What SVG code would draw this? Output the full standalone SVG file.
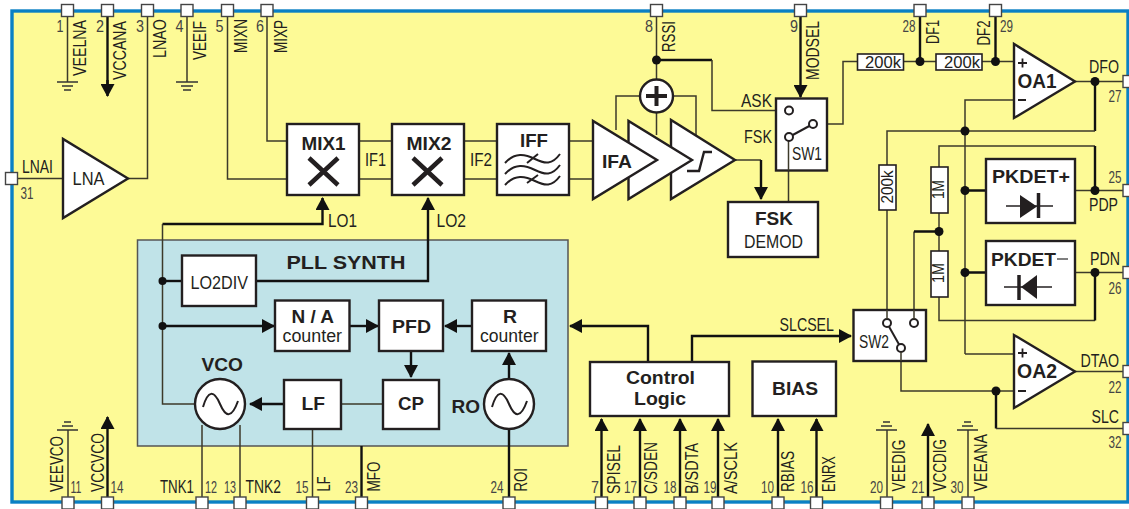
<svg xmlns="http://www.w3.org/2000/svg" width="1129" height="509" viewBox="0 0 1129 509">
<style>
text{font-family:"Liberation Sans",Arial,sans-serif;fill:#231f20}
.l{font-size:18px}
.n{font-size:17px;fill:#444;text-anchor:middle}
.b{font-size:19px;font-weight:bold}
.box{fill:#fff;stroke:#231f20;stroke-width:2.4}
.pin{fill:#fff;stroke:#444;stroke-width:1.4}
.res{fill:#fff;stroke:#231f20;stroke-width:1.6}
.t{fill:none;stroke:#3c3a2a;stroke-width:1.5}
.k{fill:none;stroke:#111;stroke-width:2.4}
.a{marker-end:url(#ah)}
.d{fill:#111}
.w{fill:none;stroke:#231f20;stroke-width:2}
.g{stroke:#333;stroke-width:1.5;fill:none}
</style>
<defs>
<marker id="ah" markerUnits="userSpaceOnUse" markerWidth="14" markerHeight="14" viewBox="0 0 13 14" refX="12" refY="7" orient="auto"><path d="M0 0L13 7L0 14Z" fill="#111"/></marker>
</defs>
<rect id="chip" x="12" y="11" width="1116" height="491" fill="#fdfa96" stroke="#0a80c4" stroke-width="3.4"/>
<g id="pll"><rect x="137.500" y="240" width="430.500" height="206" fill="#c0e3e8" stroke="#555" stroke-width="1.500"/><text class="b" x="286.500" y="269" textLength="119" lengthAdjust="spacingAndGlyphs">PLL SYNTH</text></g>
<g id="connectors">
<path class="t" d="M12 178.500H63M128 178.500H147.500V16M67.500 16V82M187 16V82M227.500 16V179H287M267 16V141H287"/>
<path class="k" d="M107.500 16V86"/>
<path class="k a" d="M107.500 80V96"/>
<path class="t" d="M359 141H392M359 179H392M464 141H497M464 179H497M569 141H593M569 179H593"/>
<path class="k a" d="M162.500 224H322.500V198"/>
<path class="t" d="M162.500 224V404H195"/>
<path class="k a" d="M256 281H428V198"/>
<path class="k" d="M162.500 281H182"/>
<path class="k a" d="M162.500 326H274"/>
<path class="k a" d="M349.500 326H378"/>
<path class="k a" d="M472 326H445"/>
<path class="k a" d="M411 351V377"/>
<path class="t" d="M383 404H341"/>
<path class="k a" d="M284 404H250"/>
<path class="k a" d="M509 379V353"/>
<path class="t" d="M202 425V497M240 425V497M312.500 429V497"/>
<path class="k" d="M361.500 446V497M509 429V497"/>
<path class="k a" d="M648 362V326H570"/>
<path class="k a" d="M692 362V336H851"/>
<path class="k a" d="M601.500 497V419"/>
<path class="k a" d="M640 497V419"/>
<path class="k a" d="M680 497V419"/>
<path class="k a" d="M718 497V419"/>
<path class="k a" d="M778 497V419"/>
<path class="k a" d="M816.500 497V419"/>
<path class="t" d="M68 497V430M887 497V430M968 497V430"/>
<path class="k a" d="M107.500 497V417"/>
<path class="k a" d="M928 497V424"/>
<path class="t" d="M656.500 16V79M616 130V96H640M673 96H696V135M656.500 113V135"/>
<path class="k" d="M656.500 60H712"/>
<path class="t" d="M712 60V110.500H785"/>
<path class="t" d="M735 160H761"/>
<path class="k a" d="M761 160V199"/>
<path class="k a" d="M800.500 16V97"/>
<path class="t" d="M788.500 141V202M817 124H843V61.500H858M903.500 61.500H936M982 61.500H1014"/>
<path class="k" d="M920 16V61M995.500 16V61"/>
<path class="t" d="M1075 81.500H1128M1075 190.500H1128M1075 272.500H1128M1075 371.500H1128"/>
<path class="k" d="M1095 81.500V131"/>
<path class="t" d="M887 319V131H1095M965 354V100H1014M965 354H1014M939 213V251M939 297V320.500H1095M939 167V146H1095M914 319V231.500"/>
<path class="k" d="M1095 146V190.500M1095 272.500V320.500M914 231.500H939M965 190.500H986M965 272.500H986"/>
<path class="t" d="M901 352V391H1014"/>
<path class="k" d="M996 391V428.500"/>
<path class="t" d="M996 428.500H1128"/>
<g class="dots"><circle class="d" cx="162.500" cy="281" r="4"/><circle class="d" cx="162.500" cy="326" r="4"/><circle class="d" cx="656.500" cy="60" r="4.500"/><circle class="d" cx="920" cy="61.500" r="4.500"/><circle class="d" cx="995.500" cy="61.500" r="4.500"/><circle class="d" cx="1095" cy="81.500" r="4.500"/><circle class="d" cx="965" cy="131" r="4.500"/><circle class="d" cx="965" cy="190.500" r="4.500"/><circle class="d" cx="1095" cy="190.500" r="4.500"/><circle class="d" cx="939" cy="231.500" r="4.500"/><circle class="d" cx="965" cy="272.500" r="4.500"/><circle class="d" cx="1095" cy="272.500" r="4.500"/><circle class="d" cx="996" cy="391" r="4.500"/></g>
<path class="g" d="M57 82H78M62 86H73M64 90H71M176 82H198M181 86H193M183 90H191M57 430H78M62 426H73M64 422H71M876 430H897M881 426H892M883 422H890M957 430H978M962 426H973M964 422H971"/>
</g>
<g id="lna"><path class="box" d="M63 139V218L128 178.500Z"/><text class="l" x="72.500" y="185" style="font-size:19px" textLength="32" lengthAdjust="spacingAndGlyphs">LNA</text></g>
<g id="mix1"><rect class="box" x="287" y="124" width="72" height="71"/><text class="b" x="301.500" y="150" textLength="44" lengthAdjust="spacingAndGlyphs">MIX1</text><path d="M309 158L338 185M338 158L309 185" stroke="#231f20" stroke-width="4.500" fill="none"/></g>
<g id="mix2"><rect class="box" x="392" y="124" width="72" height="71"/><text class="b" x="406.500" y="150" textLength="45" lengthAdjust="spacingAndGlyphs">MIX2</text><path d="M413 158L442 185M442 158L413 185" stroke="#231f20" stroke-width="4.500" fill="none"/></g>
<g id="iff"><rect class="box" x="497" y="124" width="72" height="71"/><text class="b" x="520" y="147" textLength="28" lengthAdjust="spacingAndGlyphs">IFF</text><path class="w" d="M505 163C515 152 525 154 535 159S552 165 560 154M505 174C515 163 525 165 535 170S552 176 560 165M505 185C515 174 525 176 535 181S552 187 560 176M527 163L538 154M527 183L538 175"/></g>
<g id="amp3"><path class="box" d="M671 120V199L735 160Z"/><path d="M687 171H699L704 152H712" fill="none" stroke="#231f20" stroke-width="2.400"/></g>
<g id="amp2"><path class="box" d="M628.500 121V199L692 160Z"/></g>
<g id="ifa"><path class="box" d="M593 121V199L657 160Z"/><text class="b" x="602" y="168" textLength="30" lengthAdjust="spacingAndGlyphs">IFA</text></g>
<g id="sum"><circle class="box" cx="656.500" cy="96" r="16.500"/><path d="M646 96H667M656.500 86V106" stroke="#231f20" stroke-width="4" fill="none"/></g>
<g id="sw1"><rect class="box" x="776" y="98.500" width="51" height="72"/><path d="M789 137L813 124" stroke="#231f20" stroke-width="2"/><path d="M788.500 141V170.500" class="t"/><circle cx="789" cy="110.500" r="4" fill="#fff" stroke="#231f20" stroke-width="2"/><circle cx="813" cy="124" r="4" fill="#fff" stroke="#231f20" stroke-width="2"/><circle cx="789" cy="137" r="4" fill="#fff" stroke="#231f20" stroke-width="2"/><text class="l" x="792" y="160" textLength="30" lengthAdjust="spacingAndGlyphs">SW1</text></g>
<g id="fskdemod"><rect class="box" x="728" y="202" width="90" height="55"/><text class="b" x="755" y="225" textLength="38" lengthAdjust="spacingAndGlyphs">FSK</text><text class="l" x="744" y="248" textLength="59" lengthAdjust="spacingAndGlyphs">DEMOD</text></g>
<g id="r1"><rect class="res" x="857.500" y="54" width="46" height="16"/><text class="l" x="865" y="68" style="font-size:17px" textLength="36" lengthAdjust="spacingAndGlyphs">200k</text></g>
<g id="r2"><rect class="res" x="936" y="54" width="46" height="16"/><text class="l" x="944" y="68" style="font-size:17px" textLength="36" lengthAdjust="spacingAndGlyphs">200k</text></g>
<g id="oa1"><path class="box" d="M1014 44V118L1075 81.500Z"/><text class="b" x="1017.500" y="88" style="font-size:20px" textLength="39" lengthAdjust="spacingAndGlyphs">OA1</text><path d="M1018 63H1027M1022.500 58.500V67.500M1018 100H1026" stroke="#231f20" stroke-width="1.800" fill="none"/></g>
<g id="oa2"><path class="box" d="M1014 335V408L1075 371.500Z"/><text class="b" x="1017" y="378" style="font-size:20px" textLength="40" lengthAdjust="spacingAndGlyphs">OA2</text><path d="M1018 353H1027M1022.500 348.500V357.500M1018 391H1026" stroke="#231f20" stroke-width="1.800" fill="none"/></g>
<g id="r3"><rect class="res" x="879" y="165" width="17" height="45"/><text class="l" transform="translate(893 203.500) rotate(-90)" style="font-size:16px" textLength="33" lengthAdjust="spacingAndGlyphs">200k</text></g>
<g id="r4"><rect class="res" x="931" y="167" width="17" height="46"/><text class="l" transform="translate(944 199) rotate(-90)" style="font-size:16px" textLength="19" lengthAdjust="spacingAndGlyphs">1M</text></g>
<g id="r5"><rect class="res" x="931" y="251" width="17" height="46"/><text class="l" transform="translate(944 283) rotate(-90)" style="font-size:16px" textLength="20" lengthAdjust="spacingAndGlyphs">1M</text></g>
<g id="pkdetp"><rect class="box" x="986" y="159" width="89" height="64"/><text class="b" x="992" y="183" textLength="78" lengthAdjust="spacingAndGlyphs">PKDET+</text><path d="M1006 206H1053" stroke="#231f20" stroke-width="1.500"/><path d="M1020 195V218L1037 206.500Z" fill="#231f20"/><path d="M1038.500 193V218" stroke="#231f20" stroke-width="3.500"/></g>
<g id="pkdetn"><rect class="box" x="986" y="241" width="89" height="64"/><text class="b" x="991" y="265.500" textLength="65" lengthAdjust="spacingAndGlyphs">PKDET</text><path d="M1057 259H1068" stroke="#555" stroke-width="1.500"/><path d="M1004 287H1052" stroke="#231f20" stroke-width="1.500"/><path d="M1037 275V299L1021 287Z" fill="#231f20"/><path d="M1019 275V300" stroke="#231f20" stroke-width="3.500"/></g>
<g id="sw2"><rect class="box" x="853.500" y="310" width="72.500" height="51"/><path d="M887 323L901 348" stroke="#231f20" stroke-width="2"/><circle cx="887" cy="323" r="4" fill="#fff" stroke="#231f20" stroke-width="2"/><circle cx="914" cy="323" r="4" fill="#fff" stroke="#231f20" stroke-width="2"/><circle cx="901" cy="348" r="4" fill="#fff" stroke="#231f20" stroke-width="2"/><path class="t" d="M887 310V319M914 310V319M901 352V361"/><text class="l" x="859" y="348" textLength="30" lengthAdjust="spacingAndGlyphs">SW2</text></g>
<g id="control"><rect class="box" x="590" y="362" width="139" height="54"/><text class="b" x="626" y="384" textLength="69" lengthAdjust="spacingAndGlyphs">Control</text><text class="b" x="634" y="405" textLength="52" lengthAdjust="spacingAndGlyphs">Logic</text></g>
<g id="bias"><rect class="box" x="752.500" y="361.500" width="83.500" height="54.500"/><text class="b" x="772" y="395" textLength="46" lengthAdjust="spacingAndGlyphs">BIAS</text></g>
<g id="lo2div"><rect class="box" x="182" y="255.500" width="74" height="50.500"/><text class="l" x="190.500" y="289" textLength="57.500" lengthAdjust="spacingAndGlyphs">LO2DIV</text></g>
<g id="nacounter"><rect class="box" x="275" y="300.500" width="74.500" height="50.500"/><text class="b" x="291.500" y="322.500" style="font-size:18px" textLength="42.500" lengthAdjust="spacingAndGlyphs">N / A</text><text class="l" x="282.500" y="342" style="font-size:17.500px" textLength="59.500" lengthAdjust="spacingAndGlyphs">counter</text></g>
<g id="pfd"><rect class="box" x="379" y="300.500" width="64" height="50.500"/><text class="b" x="392" y="332.500" textLength="39" lengthAdjust="spacingAndGlyphs">PFD</text></g>
<g id="rcounter"><rect class="box" x="472" y="300.500" width="74" height="50.500"/><text class="b" x="503" y="322.500" style="font-size:18px" textLength="14" lengthAdjust="spacingAndGlyphs">R</text><text class="l" x="480" y="342" style="font-size:17.500px" textLength="58.500" lengthAdjust="spacingAndGlyphs">counter</text></g>
<g id="cp"><rect class="box" x="383" y="380" width="56" height="49"/><text class="b" x="398" y="410" textLength="26" lengthAdjust="spacingAndGlyphs">CP</text></g>
<g id="lf"><rect class="box" x="284" y="380" width="57" height="49"/><text class="b" x="301.500" y="410" textLength="23.500" lengthAdjust="spacingAndGlyphs">LF</text></g>
<g id="vco"><circle class="box" cx="220" cy="404" r="25"/><path class="w" d="M203 407C208 390 214 390 220 404S232 418 238 401" stroke-width="2.500"/><text class="b" x="201.500" y="371" textLength="41.500" lengthAdjust="spacingAndGlyphs">VCO</text></g>
<g id="ro"><circle class="box" cx="509" cy="404" r="25"/><path class="w" d="M492 407C497 390 503 390 509 404S521 418 527 401" stroke-width="2.500"/><text class="b" x="451.500" y="413" textLength="28.500" lengthAdjust="spacingAndGlyphs">RO</text></g>
<g id="labels">
<text class="l" x="22" y="173" textLength="31" lengthAdjust="spacingAndGlyphs">LNAI</text>
<text class="l" x="365" y="166" textLength="21" lengthAdjust="spacingAndGlyphs">IF1</text>
<text class="l" x="470" y="166" textLength="22" lengthAdjust="spacingAndGlyphs">IF2</text>
<text class="l" x="328" y="226.500" textLength="29" lengthAdjust="spacingAndGlyphs">LO1</text>
<text class="l" x="436.500" y="227" textLength="29.500" lengthAdjust="spacingAndGlyphs">LO2</text>
<text class="l" x="741" y="106.500" textLength="31" lengthAdjust="spacingAndGlyphs">ASK</text>
<text class="l" x="744" y="143" textLength="28" lengthAdjust="spacingAndGlyphs">FSK</text>
<text class="l" x="1089" y="72.500" textLength="30" lengthAdjust="spacingAndGlyphs">DFO</text>
<text class="l" x="1089" y="210.500" textLength="29" lengthAdjust="spacingAndGlyphs">PDP</text>
<text class="l" x="1090" y="265" textLength="30" lengthAdjust="spacingAndGlyphs">PDN</text>
<text class="l" x="1080.500" y="366.500" textLength="38.500" lengthAdjust="spacingAndGlyphs">DTAO</text>
<text class="l" x="1091.500" y="422.500" textLength="27.500" lengthAdjust="spacingAndGlyphs">SLC</text>
<text class="l" x="779.500" y="331" textLength="54.500" lengthAdjust="spacingAndGlyphs">SLCSEL</text>
<text class="l" x="160" y="493" textLength="34" lengthAdjust="spacingAndGlyphs">TNK1</text>
<text class="l" x="245.500" y="493" textLength="35.500" lengthAdjust="spacingAndGlyphs">TNK2</text>
<text class="l" transform="translate(86 76) rotate(-90)" textLength="56" lengthAdjust="spacingAndGlyphs">VEELNA</text>
<text class="l" transform="translate(126 80) rotate(-90)" textLength="59" lengthAdjust="spacingAndGlyphs">VCCANA</text>
<text class="l" transform="translate(165.500 58) rotate(-90)" textLength="39" lengthAdjust="spacingAndGlyphs">LNAO</text>
<text class="l" transform="translate(206 60) rotate(-90)" textLength="39" lengthAdjust="spacingAndGlyphs">VEEIF</text>
<text class="l" transform="translate(246.500 53) rotate(-90)" textLength="34" lengthAdjust="spacingAndGlyphs">MIXN</text>
<text class="l" transform="translate(286.500 53) rotate(-90)" textLength="33" lengthAdjust="spacingAndGlyphs">MIXP</text>
<text class="l" transform="translate(675 52) rotate(-90)" textLength="31" lengthAdjust="spacingAndGlyphs">RSSI</text>
<text class="l" transform="translate(819 80) rotate(-90)" textLength="59" lengthAdjust="spacingAndGlyphs">MODSEL</text>
<text class="l" transform="translate(939 44) rotate(-90)" textLength="24" lengthAdjust="spacingAndGlyphs">DF1</text>
<text class="l" transform="translate(990 45.500) rotate(-90)" textLength="25" lengthAdjust="spacingAndGlyphs">DF2</text>
<text class="l" transform="translate(62.500 492) rotate(-90)" textLength="56" lengthAdjust="spacingAndGlyphs">VEEVCO</text>
<text class="l" transform="translate(104 492) rotate(-90)" textLength="59" lengthAdjust="spacingAndGlyphs">VCCVCO</text>
<text class="l" transform="translate(330 491.500) rotate(-90)" textLength="15" lengthAdjust="spacingAndGlyphs">LF</text>
<text class="l" transform="translate(380 491.500) rotate(-90)" textLength="30" lengthAdjust="spacingAndGlyphs">MFO</text>
<text class="l" transform="translate(526.500 491.500) rotate(-90)" textLength="23.500" lengthAdjust="spacingAndGlyphs">ROI</text>
<text class="l" transform="translate(619.500 494) rotate(-90)" textLength="49" lengthAdjust="spacingAndGlyphs">SPISEL</text>
<text class="l" transform="translate(657 494) rotate(-90)" textLength="52" lengthAdjust="spacingAndGlyphs">C/SDEN</text>
<text class="l" transform="translate(698 494) rotate(-90)" textLength="51" lengthAdjust="spacingAndGlyphs">B/SDTA</text>
<text class="l" transform="translate(736.500 494) rotate(-90)" textLength="52" lengthAdjust="spacingAndGlyphs">A/SCLK</text>
<text class="l" transform="translate(794 492) rotate(-90)" textLength="41" lengthAdjust="spacingAndGlyphs">RBIAS</text>
<text class="l" transform="translate(835 492) rotate(-90)" textLength="36" lengthAdjust="spacingAndGlyphs">ENRX</text>
<text class="l" transform="translate(905 491.500) rotate(-90)" textLength="52" lengthAdjust="spacingAndGlyphs">VEEDIG</text>
<text class="l" transform="translate(945.500 491.500) rotate(-90)" textLength="52.500" lengthAdjust="spacingAndGlyphs">VCCDIG</text>
<text class="l" transform="translate(986.500 491.500) rotate(-90)" textLength="57.500" lengthAdjust="spacingAndGlyphs">VEEANA</text>
<text class="n" x="60" y="32" textLength="7" lengthAdjust="spacingAndGlyphs">1</text>
<text class="n" x="100" y="32" textLength="8" lengthAdjust="spacingAndGlyphs">2</text>
<text class="n" x="140" y="32" textLength="8" lengthAdjust="spacingAndGlyphs">3</text>
<text class="n" x="179.500" y="32" textLength="8" lengthAdjust="spacingAndGlyphs">4</text>
<text class="n" x="219.500" y="32" textLength="8" lengthAdjust="spacingAndGlyphs">5</text>
<text class="n" x="260" y="32" textLength="8" lengthAdjust="spacingAndGlyphs">6</text>
<text class="n" x="649" y="32" textLength="8" lengthAdjust="spacingAndGlyphs">8</text>
<text class="n" x="794" y="32" textLength="8" lengthAdjust="spacingAndGlyphs">9</text>
<text class="n" x="909" y="32" textLength="13" lengthAdjust="spacingAndGlyphs">28</text>
<text class="n" x="1006.500" y="32" textLength="13" lengthAdjust="spacingAndGlyphs">29</text>
<text class="n" x="27" y="199" textLength="13" lengthAdjust="spacingAndGlyphs">31</text>
<text class="n" x="1115" y="101.500" textLength="13" lengthAdjust="spacingAndGlyphs">27</text>
<text class="n" x="1115" y="183" textLength="13" lengthAdjust="spacingAndGlyphs">25</text>
<text class="n" x="1115" y="294" textLength="13" lengthAdjust="spacingAndGlyphs">26</text>
<text class="n" x="1115" y="392.500" textLength="13" lengthAdjust="spacingAndGlyphs">22</text>
<text class="n" x="1115" y="448" textLength="13" lengthAdjust="spacingAndGlyphs">32</text>
<text class="n" x="76" y="493" textLength="11" lengthAdjust="spacingAndGlyphs">11</text>
<text class="n" x="117" y="493" textLength="13" lengthAdjust="spacingAndGlyphs">14</text>
<text class="n" x="211" y="493" textLength="12" lengthAdjust="spacingAndGlyphs">12</text>
<text class="n" x="230" y="493" textLength="12" lengthAdjust="spacingAndGlyphs">13</text>
<text class="n" x="302" y="493" textLength="13" lengthAdjust="spacingAndGlyphs">15</text>
<text class="n" x="351.500" y="493" textLength="13" lengthAdjust="spacingAndGlyphs">23</text>
<text class="n" x="497" y="493" textLength="13" lengthAdjust="spacingAndGlyphs">24</text>
<text class="n" x="595" y="493" textLength="8" lengthAdjust="spacingAndGlyphs">7</text>
<text class="n" x="630.500" y="493" textLength="13" lengthAdjust="spacingAndGlyphs">17</text>
<text class="n" x="670" y="493" textLength="13" lengthAdjust="spacingAndGlyphs">18</text>
<text class="n" x="710" y="493" textLength="13" lengthAdjust="spacingAndGlyphs">19</text>
<text class="n" x="767.500" y="493" textLength="13" lengthAdjust="spacingAndGlyphs">10</text>
<text class="n" x="807" y="493" textLength="13" lengthAdjust="spacingAndGlyphs">16</text>
<text class="n" x="876.500" y="493" textLength="13" lengthAdjust="spacingAndGlyphs">20</text>
<text class="n" x="918" y="493" textLength="13" lengthAdjust="spacingAndGlyphs">21</text>
<text class="n" x="957" y="493" textLength="13" lengthAdjust="spacingAndGlyphs">30</text>
</g>
<g id="pins">
<rect class="pin" x="61.500" y="4.500" width="12" height="12"/><rect class="pin" x="101.500" y="4.500" width="12" height="12"/><rect class="pin" x="141.500" y="4.500" width="12" height="12"/><rect class="pin" x="181" y="4.500" width="12" height="12"/><rect class="pin" x="221.500" y="4.500" width="12" height="12"/><rect class="pin" x="261" y="4.500" width="12" height="12"/><rect class="pin" x="650.500" y="4.500" width="12" height="12"/><rect class="pin" x="794.500" y="4.500" width="12" height="12"/><rect class="pin" x="914" y="4.500" width="12" height="12"/><rect class="pin" x="989.500" y="4.500" width="12" height="12"/>
<rect class="pin" x="5.500" y="172.500" width="12" height="12"/>
<rect class="pin" x="1123" y="75.500" width="12" height="12"/><rect class="pin" x="1123" y="184.500" width="12" height="12"/><rect class="pin" x="1123" y="266.500" width="12" height="12"/><rect class="pin" x="1123" y="365.500" width="12" height="12"/><rect class="pin" x="1123" y="422.500" width="12" height="12"/>
<rect class="pin" x="62" y="497" width="12" height="12"/><rect class="pin" x="101.500" y="497" width="12" height="12"/><rect class="pin" x="196" y="497" width="12" height="12"/><rect class="pin" x="234" y="497" width="12" height="12"/><rect class="pin" x="306.500" y="497" width="12" height="12"/><rect class="pin" x="355.500" y="497" width="12" height="12"/><rect class="pin" x="503" y="497" width="12" height="12"/><rect class="pin" x="595.500" y="497" width="12" height="12"/><rect class="pin" x="634" y="497" width="12" height="12"/><rect class="pin" x="674" y="497" width="12" height="12"/><rect class="pin" x="712" y="497" width="12" height="12"/><rect class="pin" x="772" y="497" width="12" height="12"/><rect class="pin" x="810.500" y="497" width="12" height="12"/><rect class="pin" x="880.500" y="497" width="12" height="12"/><rect class="pin" x="922" y="497" width="12" height="12"/><rect class="pin" x="962" y="497" width="12" height="12"/>
</g>
</svg>
